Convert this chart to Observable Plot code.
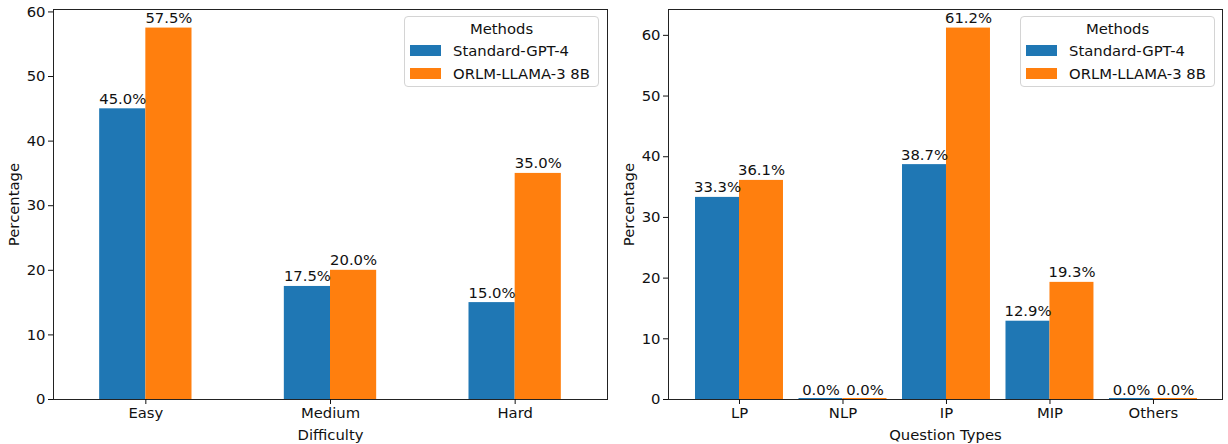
<!DOCTYPE html>
<html>
<head>
<meta charset="utf-8">
<script src="https://cdn.jsdelivr.net/npm/d3@7"></script>
<script src="https://cdn.jsdelivr.net/npm/@observablehq/plot@0.6"></script>
<style>
  html, body { margin: 0; padding: 0; background: #fff; }
  body { width: 1228px; height: 444px; overflow: hidden; font-family: "DejaVu Sans", sans-serif; }
  #wrap { display: flex; width: 1228px; height: 444px; }
  .panel { position: relative; width: 614px; height: 444px; }
  .legend { position: absolute; top: 16px; width: 193px; height: 69px; border: 1px solid #d4d4d4; border-radius: 4px;
            background: rgba(255,255,255,0.85); box-sizing: content-box; font-size: 14.8px; color: #111; }
  .legend .title { text-align: center; height: 21px; line-height: 21px; margin-top: 1px; }
  .legend .row { display: flex; align-items: center; height: 23px; }
  .legend .sw { width: 31px; height: 11px; margin-left: 5px; margin-right: 12px; }
</style>
</head>
<body>
<div id="wrap">
  <div class="panel" id="left"></div>
  <div class="panel" id="right"></div>
</div>
<script>
// ---- data ----
const methods = ["Standard-GPT-4", "ORLM-LLAMA-3 8B"];
const colors = ["#1f77b4", "#ff7f0e"];

const difficultyCats = ["Easy", "Medium", "Hard"];
const difficultyStd = [45.0, 17.5, 15.0];
const difficultyOrlm = [57.5, 20.0, 35.0];

const typeCats = ["LP", "NLP", "IP", "MIP", "Others"];
const typeStd = [33.3, 0.0, 38.7, 12.9, 0.0];
const typeOrlm = [36.1, 0.0, 61.2, 19.3, 0.0];

const yTicks = [0, 10, 20, 30, 40, 50, 60];

function rows(cats, a, b, w) {
  const out = [];
  cats.forEach((c, i) => {
    [a[i], b[i]].forEach((v, m) => {
      out.push({cat: c, i, method: methods[m], m, value: v,
                x1: i - w + m * w, x2: i + m * w, xc: i - w / 2 + m * w});
    });
  });
  return out;
}

function panel(el, cats, a, b, opts) {
  const data = rows(cats, a, b, opts.w);
  const ymax = d3.max(data, d => d.value) * 1.05;
  const fmt = v => d3.format(".1f")(v) + "%";
  const plot = Plot.plot({
    width: 614,
    height: 444,
    marginTop: 9,
    marginBottom: 45,
    marginLeft: opts.ml,
    marginRight: opts.mr,
    style: {fontFamily: "DejaVu Sans", fontSize: "14.8px", color: "#111", background: "white"},
    x: {domain: opts.xdomain},
    y: {domain: [0, ymax]},
    color: {domain: methods, range: colors},
    marks: [
      Plot.rectY(data, {x1: "x1", x2: "x2", y1: 0, y2: "value", fill: "method"}),
      Plot.ruleY(data.filter(d => d.value === 0), {x1: "x1", x2: "x2", y: 0, stroke: "method", strokeWidth: 1, dy: -1}),
      Plot.text(data, {x: "xc", y: "value", text: d => fmt(d.value), lineAnchor: "bottom", dy: -5, fill: "#111"}),
      Plot.frame({stroke: "#222", strokeWidth: 1}),
      Plot.axisY({ticks: yTicks, tickSize: 5, tickPadding: 3, label: "Percentage", labelAnchor: "center",
                  labelArrow: "none", labelOffset: 45}),
      Plot.axisX({ticks: cats.map((c, i) => i), tickFormat: i => cats[i], tickSize: 5, tickPadding: 3,
                  label: opts.xlabel, labelAnchor: "center", labelArrow: "none", labelOffset: 40})
    ]
  });
  el.appendChild(plot);
  const lg = document.createElement("div");
  lg.className = "legend";
  lg.style.left = opts.legendLeft + "px";
  lg.innerHTML = `<div class="title">Methods</div>` +
    methods.map((m, k) => `<div class="row"><div class="sw" style="background:${colors[k]}"></div><span>${m}</span></div>`).join("");
  el.appendChild(lg);
}

panel(document.getElementById("left"), difficultyCats, difficultyStd, difficultyOrlm,
      {w: 0.25, xdomain: [-0.5, 2.5], ml: 53, mr: 7, xlabel: "Difficulty", legendLeft: 404});
panel(document.getElementById("right"), typeCats, typeStd, typeOrlm,
      {w: 0.425, xdomain: [-0.686, 4.667], ml: 54, mr: 6, xlabel: "Question Types", legendLeft: 406});
</script>
</body>
</html>
